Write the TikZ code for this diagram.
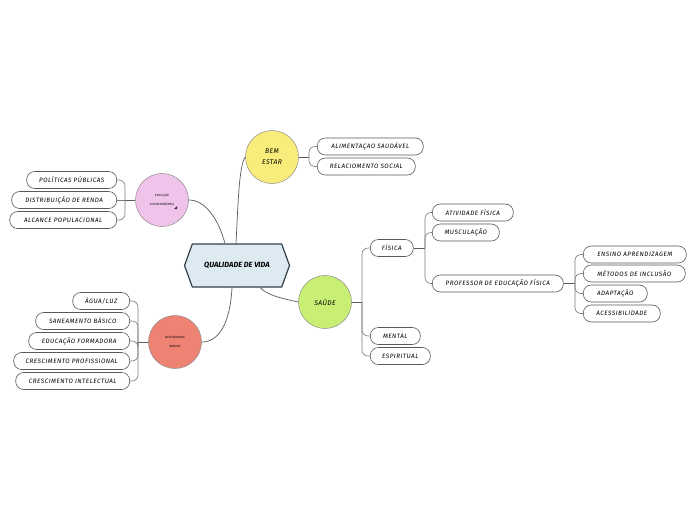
\documentclass[tikz,border=0pt]{standalone}
\usepackage{fontspec}
\setmainfont{Fira Sans}
\usetikzlibrary{shapes.symbols}
\definecolor{edge}{HTML}{5A5A5A}
\definecolor{hexfill}{HTML}{DDEAF1}
\definecolor{hexline}{HTML}{33414C}
\definecolor{pinkc}{HTML}{EFC3EA}
\definecolor{redc}{HTML}{EE8273}
\definecolor{yelc}{HTML}{F8EC7A}
\definecolor{grnc}{HTML}{C9EE74}
\tikzset{
  leaf/.style={draw=edge, line width=0.6pt, fill=white, rounded corners=8pt,
    minimum height=17pt, inner sep=0pt, font=\fontsize{6.3}{7}\selectfont\itshape\addfontfeatures{LetterSpace=8}},
  topic/.style={circle, draw=edge!70, line width=0.5pt, minimum size=53pt, inner sep=0pt, align=center,
    font=\fontsize{6.8}{11}\selectfont\itshape\addfontfeatures{LetterSpace=6}},
  tiny/.style={topic, font=\fontsize{3}{9}\selectfont\itshape},
  link/.style={draw=edge, line width=0.7pt},
  br/.style={draw=edge!80, line width=0.6pt, rounded corners=6pt}
}
\begin{document}
\begin{tikzpicture}[x=1pt,y=-1pt]
\useasboundingbox (0,0) rectangle (696,520);
\fill[white] (0,0) rectangle (696,520);

% central
\node[shape=signal, signal to=west and east, signal pointer angle=140, draw=hexline, line width=1.2pt,
  fill=hexfill, minimum width=105pt, minimum height=43pt, inner sep=0pt,
  font=\fontsize{7.5}{9}\selectfont\itshape\bfseries] (hex) at (237,265.5) {QUALIDADE DE VIDA};

% topics
\node[tiny, fill=pinkc] (ev) at (162,200) {EVOLUÇÃO\\SOCIOECONÔMICA};
\node[tiny, fill=redc] (nb) at (175,342) {NECESSIDADES\\BÁSICAS};
\node[topic, fill=yelc] (be) at (272,157) {BEM\\ESTAR};
\node[topic, fill=grnc] (sa) at (325,302) {SAÚDE};
\fill[black!80] (174,209) -- (177,209) -- (177,206) -- cycle;

% central links
\draw[link] ([xshift=-1pt]hex.north) .. controls (238,205) and (239,165) .. (be.west);
\draw[link] ([xshift=-12pt]hex.north) .. controls (218,218) and (205,200) .. (ev.east);
\draw[link] ([xshift=-5pt]hex.south) .. controls (230,325) and (218,342) .. (nb.east);
\draw[link] ([xshift=23pt]hex.south) .. controls (268,296) and (285,299) .. (sa.west);

% EVOLUCAO leaves
\node[leaf, anchor=east, minimum width=90pt] (pp) at (117,180) {POLÍTICAS PÚBLICAS};
\node[leaf, anchor=east, minimum width=105pt] (dr) at (117,200) {DISTRIBUIÇÃO DE RENDA};
\node[leaf, anchor=east, minimum width=107pt] (ap) at (117,220) {ALCANCE POPULACIONAL};
\coordinate (jev) at (125,200);
\draw[link] (ev.west) -- (jev);
\draw[br] (jev) |- (pp.east);
\draw[br] (jev) -- (dr.east);
\draw[br] (jev) |- (ap.east);

% NECESSIDADES leaves
\node[leaf, anchor=east, minimum width=57pt] (al) at (130,301) {ÁGUA/LUZ};
\node[leaf, anchor=east, minimum width=94pt] (sb) at (130,321) {SANEAMENTO BÁSICO};
\node[leaf, anchor=east, minimum width=101pt] (ef) at (130,341) {EDUCAÇÃO FORMADORA};
\node[leaf, anchor=east, minimum width=116pt] (cp) at (130,361) {CRESCIMENTO PROFISSIONAL};
\node[leaf, anchor=east, minimum width=114pt] (ci) at (130,381) {CRESCIMENTO INTELECTUAL};
\coordinate (jnb) at (138,342);
\draw[link] (nb.west) -- (jnb);
\draw[br] (jnb) |- (al.east);
\draw[br] (jnb) |- (sb.east);
\draw[br] (jnb) |- (ef.east);
\draw[br] (jnb) |- (cp.east);
\draw[br] (jnb) |- (ci.east);

% BEM ESTAR leaves
\node[leaf, anchor=west, minimum width=106pt] (as) at (317,146.5) {ALIMENTAÇAO SAUDÁVEL};
\node[leaf, anchor=west, minimum width=98pt] (rs) at (317,166.5) {RELACIOMENTO SOCIAL};
\coordinate (jbe) at (309,157);
\draw[link] (be.east) -- (jbe);
\draw[br] (jbe) |- (as.west);
\draw[br] (jbe) |- (rs.west);

% SAUDE leaves
\node[leaf, anchor=west, minimum width=43pt] (fi) at (370,248) {FÍSICA};
\node[leaf, anchor=west, minimum width=50pt] (me) at (370,336) {MENTAL};
\node[leaf, anchor=west, minimum width=60pt] (es) at (370,356) {ESPIRITUAL};
\coordinate (jsa) at (362,302);
\draw[link] (sa.east) -- (jsa);
\draw[br] (jsa) |- (fi.west);
\draw[br] (jsa) |- (me.west);
\draw[br] (jsa) |- (es.west);

% FISICA leaves
\node[leaf, anchor=west, minimum width=81pt] (af) at (432,212.5) {ATIVIDADE FÍSICA};
\node[leaf, anchor=west, minimum width=67pt] (mu) at (432,232.5) {MUSCULAÇÃO};
\node[leaf, anchor=west, minimum width=131pt] (pe) at (432,283.5) {PROFESSOR DE EDUCAÇÃO FÍSICA};
\coordinate (jfi) at (425,248);
\draw[link] (fi.east) -- (jfi);
\draw[br] (jfi) |- (af.west);
\draw[br] (jfi) |- (mu.west);
\draw[br] (jfi) |- (pe.west);

% PROFESSOR leaves
\node[leaf, anchor=west, minimum width=103pt] (ea) at (583,254.5) {ENSINO APRENDIZAGEM};
\node[leaf, anchor=west, minimum width=102pt] (mi) at (583,273.5) {MÉTODOS DE INCLUSÃO};
\node[leaf, anchor=west, minimum width=64pt] (ad) at (583,293.5) {ADAPTAÇÃO};
\node[leaf, anchor=west, minimum width=77pt] (ac) at (583,313.5) {ACESSIBILIDADE};
\coordinate (jpe) at (575,283.5);
\draw[link] (pe.east) -- (jpe);
\draw[br] (jpe) |- (ea.west);
\draw[br] (jpe) |- (mi.west);
\draw[br] (jpe) |- (ad.west);
\draw[br] (jpe) |- (ac.west);
\end{tikzpicture}
\end{document}
